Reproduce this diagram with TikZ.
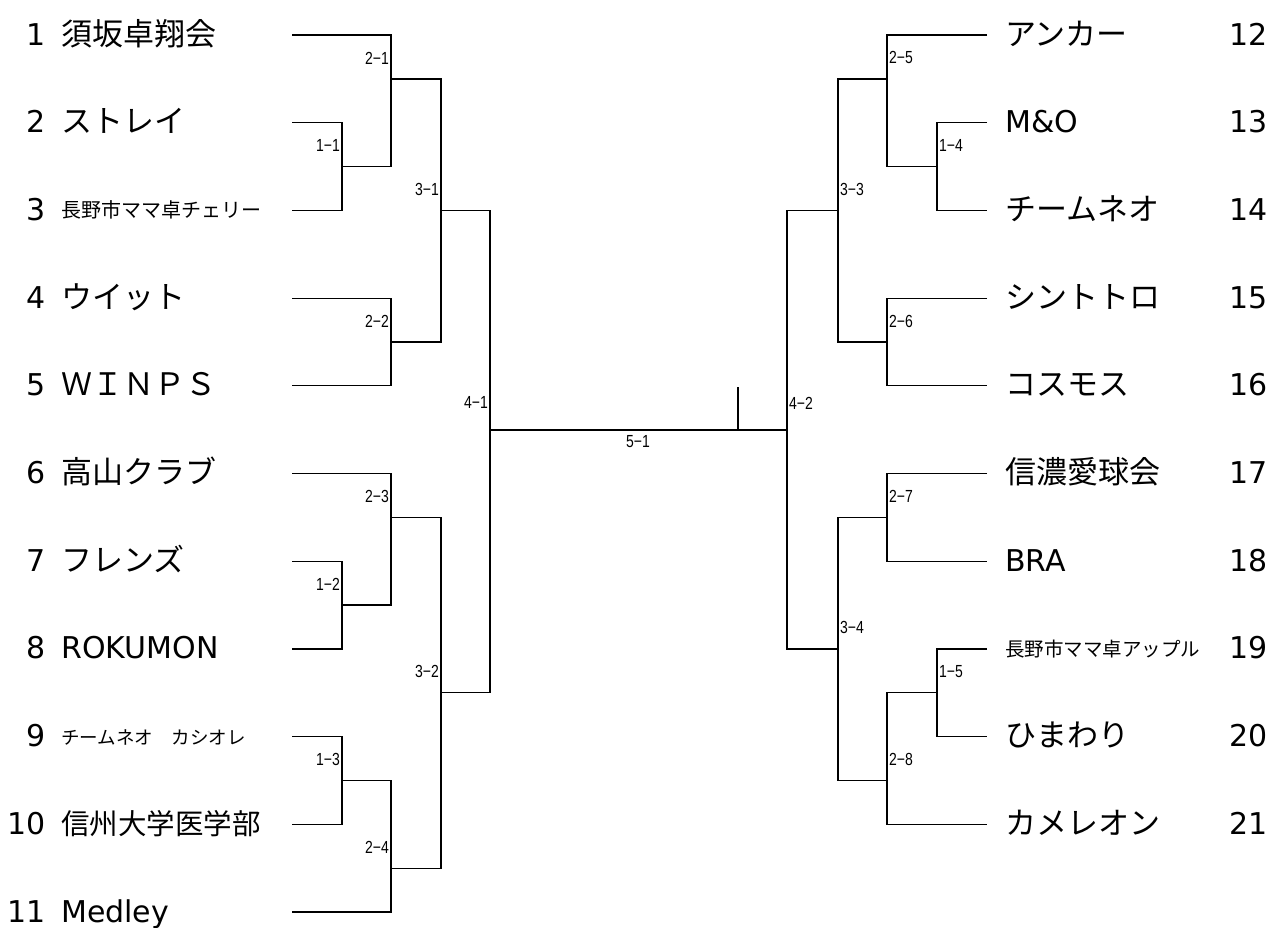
\documentclass[tikz,border=0pt]{standalone}
\usepackage{fontspec}
\setmainfont{DejaVu Sans}
\newfontfamily\jp{Noto Sans CJK JP}
\newfontfamily\lblfont[FakeStretch=0.8]{Liberation Sans}
\usetikzlibrary{positioning}

\begin{document}
\begin{tikzpicture}[x=1pt,y=-1pt,line join=miter,
  bracket/.style={black,line width=1.2pt},
  num/.style={inner sep=0pt,anchor=base east,yshift=-10pt,font=\fontsize{30}{30}\selectfont},
  numr/.style={num,anchor=base east},
  team/.style={inner sep=0pt,anchor=base west,yshift=-10pt,font=\fontsize{30}{30}\selectfont},
  jpteam/.style={team,font=\fontsize{31}{31}\selectfont\jp},
  small/.style={team,yshift=2.5pt},
  lbl/.style={inner sep=0pt,font=\lblfont\fontsize{17.5}{17.5}\selectfont},
  lbll/.style={lbl,anchor=east,xshift=-2pt,yshift=21pt},
  lblr/.style={lbl,anchor=west,xshift=2pt,yshift=21pt}]

  \useasboundingbox (0,0) rectangle (1273,927);

  % left side teams
  \node (num_1) at (46,35) [num] {1};
  \node (team_1) at (61,35) [jpteam] {須坂卓翔会};
  \node (num_2) at (46,122.7) [num] {2};
  \node (team_2) at (61,122.7) [jpteam] {ストレイ};
  \node (num_3) at (46,210.4) [num] {3};
  \node (team_3) at (61,210.4) [small,font=\fontsize{20}{20}\selectfont\jp] {長野市ママ卓チェリー};
  \node (num_4) at (46,298.1) [num] {4};
  \node (team_4) at (61,298.1) [jpteam] {ウイット};
  \node (num_5) at (46,385.8) [num] {5};
  \node (team_5) at (61,385.8) [jpteam] {ＷＩＮＰＳ};
  \node (num_6) at (46,473.5) [num] {6};
  \node (team_6) at (61,473.5) [jpteam] {高山クラブ};
  \node (num_7) at (46,561.2) [num] {7};
  \node (team_7) at (61,561.2) [jpteam] {フレンズ};
  \node (num_8) at (46,648.9) [num] {8};
  \node (team_8) at (61,648.9) [team] {ROKUMON};
  \node (num_9) at (46,736.6) [num] {9};
  \node (team_9) at (61,736.6) [small,font=\fontsize{18.5}{18.5}\selectfont\jp] {チームネオ　カシオレ};
  \node (num_10) at (46,824.3) [num] {10};
  \node (team_10) at (61,824.3) [jpteam,font=\fontsize{28.5}{28.5}\selectfont\jp] {信州大学医学部};
  \node (num_11) at (46,912) [num] {11};
  \node (team_11) at (61,912) [team] {Medley};

  % right side teams
  \node (team_12) at (1005,35) [jpteam] {アンカー};
  \node (num_12) at (1268,35) [numr] {12};
  \node (team_13) at (1005,122.7) [team] {M\&O};
  \node (num_13) at (1268,122.7) [numr] {13};
  \node (team_14) at (1005,210.4) [jpteam] {チームネオ};
  \node (num_14) at (1268,210.4) [numr] {14};
  \node (team_15) at (1005,298.1) [jpteam] {シントトロ};
  \node (num_15) at (1268,298.1) [numr] {15};
  \node (team_16) at (1005,385.8) [jpteam] {コスモス};
  \node (num_16) at (1268,385.8) [numr] {16};
  \node (team_17) at (1005,473.5) [jpteam] {信濃愛球会};
  \node (num_17) at (1268,473.5) [numr] {17};
  \node (team_18) at (1005,561.2) [team] {BRA};
  \node (num_18) at (1268,561.2) [numr] {18};
  \node (team_19) at (1005,648.9) [small,font=\fontsize{19.5}{19.5}\selectfont\jp] {長野市ママ卓アップル};
  \node (num_19) at (1268,648.9) [numr] {19};
  \node (team_20) at (1005,736.6) [jpteam] {ひまわり};
  \node (num_20) at (1268,736.6) [numr] {20};
  \node (team_21) at (1005,824.3) [jpteam] {カメレオン};
  \node (num_21) at (1268,824.3) [numr] {21};

  % line ends
  \coordinate (end_1) at (292,35);
  \coordinate (end_2) at (292,122.7);
  \coordinate (end_3) at (292,210.4);
  \coordinate (end_4) at (292,298.1);
  \coordinate (end_5) at (292,385.8);
  \coordinate (end_6) at (292,473.5);
  \coordinate (end_7) at (292,561.2);
  \coordinate (end_8) at (292,648.9);
  \coordinate (end_9) at (292,736.6);
  \coordinate (end_10) at (292,824.3);
  \coordinate (end_11) at (292,912);
  \coordinate (end_12) at (987,35);
  \coordinate (end_13) at (987,122.7);
  \coordinate (end_14) at (987,210.4);
  \coordinate (end_15) at (987,298.1);
  \coordinate (end_16) at (987,385.8);
  \coordinate (end_17) at (987,473.5);
  \coordinate (end_18) at (987,561.2);
  \coordinate (end_19) at (987,648.9);
  \coordinate (end_20) at (987,736.6);
  \coordinate (end_21) at (987,824.3);

  % match joints
  \coordinate (match_1_1) at (342,166.5);
  \coordinate (match_1_2) at (342,605);
  \coordinate (match_1_3) at (342,780.5);
  \coordinate (match_2_1) at (391,78.9);
  \coordinate (match_2_2) at (391,342);
  \coordinate (match_2_3) at (391,517.4);
  \coordinate (match_2_4) at (391,868.2);
  \coordinate (match_3_1) at (441,210.4);
  \coordinate (match_3_2) at (441,692.8);
  \coordinate (match_4_1) at (490,430);
  \coordinate (match_1_4) at (937,166.5);
  \coordinate (match_1_5) at (937,692.8);
  \coordinate (match_2_5) at (887,78.9);
  \coordinate (match_2_6) at (887,342);
  \coordinate (match_2_7) at (887,517.4);
  \coordinate (match_2_8) at (887,780.5);
  \coordinate (match_3_3) at (838,210.4);
  \coordinate (match_3_4) at (838,648.9);
  \coordinate (match_4_2) at (787,430);
  \coordinate (tick) at (738,387);

  % left bracket
  \draw [bracket] (end_2) -| (match_1_1) |- (end_3);
  \draw [bracket] (end_1) -| (match_2_1) |- (match_1_1);
  \draw [bracket] (end_4) -| (match_2_2) |- (end_5);
  \draw [bracket] (match_2_1) -| (match_3_1) |- (match_2_2);
  \draw [bracket] (end_7) -| (match_1_2) |- (end_8);
  \draw [bracket] (end_6) -| (match_2_3) |- (match_1_2);
  \draw [bracket] (end_9) -| (match_1_3) |- (end_10);
  \draw [bracket] (match_1_3) -| (match_2_4) |- (end_11);
  \draw [bracket] (match_2_3) -| (match_3_2) |- (match_2_4);
  \draw [bracket] (match_3_1) -| (match_4_1) |- (match_3_2);

  % right bracket
  \draw [bracket] (end_13) -| (match_1_4) |- (end_14);
  \draw [bracket] (end_12) -| (match_2_5) |- (match_1_4);
  \draw [bracket] (end_15) -| (match_2_6) |- (end_16);
  \draw [bracket] (match_2_5) -| (match_3_3) |- (match_2_6);
  \draw [bracket] (end_17) -| (match_2_7) |- (end_18);
  \draw [bracket] (end_19) -| (match_1_5) |- (end_20);
  \draw [bracket] (match_1_5) -| (match_2_8) |- (end_21);
  \draw [bracket] (match_2_7) -| (match_3_4) |- (match_2_8);
  \draw [bracket] (match_3_3) -| (match_4_2) |- (match_3_4);

  % final
  \draw [bracket] (match_4_1) -- (match_4_2);
  \draw [bracket] (tick) -- (tick |- match_4_1);

  % match labels
  \node (lbl_1_1) at (match_1_1) [lbll] {1−1};
  \node (lbl_1_2) at (match_1_2) [lbll] {1−2};
  \node (lbl_1_3) at (match_1_3) [lbll] {1−3};
  \node (lbl_2_1) at (match_2_1) [lbll] {2−1};
  \node (lbl_2_2) at (match_2_2) [lbll] {2−2};
  \node (lbl_2_3) at (match_2_3) [lbll] {2−3};
  \node (lbl_2_4) at (match_2_4) [lbll] {2−4};
  \node (lbl_3_1) at (match_3_1) [lbll] {3−1};
  \node (lbl_3_2) at (match_3_2) [lbll] {3−2};
  \node (lbl_4_1) at (match_4_1) [lbll,yshift=7pt] {4−1};
  \node (lbl_1_4) at (match_1_4) [lblr] {1−4};
  \node (lbl_1_5) at (match_1_5) [lblr] {1−5};
  \node (lbl_2_5) at (match_2_5) [lblr] {2−5};
  \node (lbl_2_6) at (match_2_6) [lblr] {2−6};
  \node (lbl_2_7) at (match_2_7) [lblr] {2−7};
  \node (lbl_2_8) at (match_2_8) [lblr] {2−8};
  \node (lbl_3_3) at (match_3_3) [lblr] {3−3};
  \node (lbl_3_4) at (match_3_4) [lblr] {3−4};
  \node (lbl_4_2) at (match_4_2) [lblr,yshift=6pt] {4−2};
  \node (lbl_5_1) at (638,442) [lbl] {5−1};
%
\end{tikzpicture}
\end{document}
